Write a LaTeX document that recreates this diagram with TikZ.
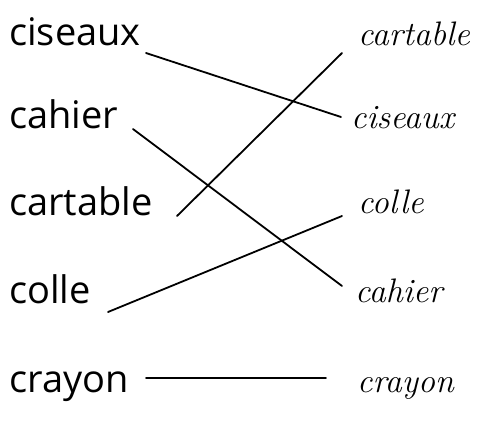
\documentclass[tikz,border=0pt]{standalone}
\usepackage{fontspec}
\setmainfont{Open Sans}
\newfontfamily\cursivefont{Latin Modern Roman}
\begin{document}
\begin{tikzpicture}[x=1pt,y=-1pt,
  leftword/.style={anchor=base west,inner sep=0pt,font=\fontsize{38}{42}\selectfont},
  rightword/.style={anchor=base west,inner sep=0pt,font=\cursivefont\itshape\fontsize{34}{40}\selectfont},
  link/.style={line width=1.8pt,line cap=round}]
\useasboundingbox (0,0) rectangle (478,423);
% left words
\node[leftword] (l1) at (9,45) {ciseaux};
\node[leftword] (l2) at (9,128) {cahier};
\node[leftword] (l3) at (9,215) {cartable};
\node[leftword] (l4) at (9,303) {colle};
\node[leftword] (l5) at (9,392) {crayon};
% right words
\node[rightword] (r1) at (358,45) {cartable};
\node[rightword] (r2) at (351,128) {ciseaux};
\node[rightword] (r3) at (358,213) {colle};
\node[rightword] (r4) at (355,302) {cahier};
\node[rightword] (r5) at (357,392) {crayon};
% end points
\coordinate (a1) at (146,53);
\coordinate (b1) at (341,117);
\coordinate (a2) at (133,129);
\coordinate (b2) at (342,286);
\coordinate (a3) at (177,216);
\coordinate (b3) at (342,53);
\coordinate (a4) at (108,312);
\coordinate (b4) at (342,216);
\coordinate (a5) at (146,378);
\coordinate (b5) at (326,378);
\draw[link] (a1) -- (b1);
\draw[link] (a2) -- (b2);
\draw[link] (a3) -- (b3);
\draw[link] (a4) -- (b4);
\draw[link] (a5) -- (b5);
\end{tikzpicture}
\end{document}
